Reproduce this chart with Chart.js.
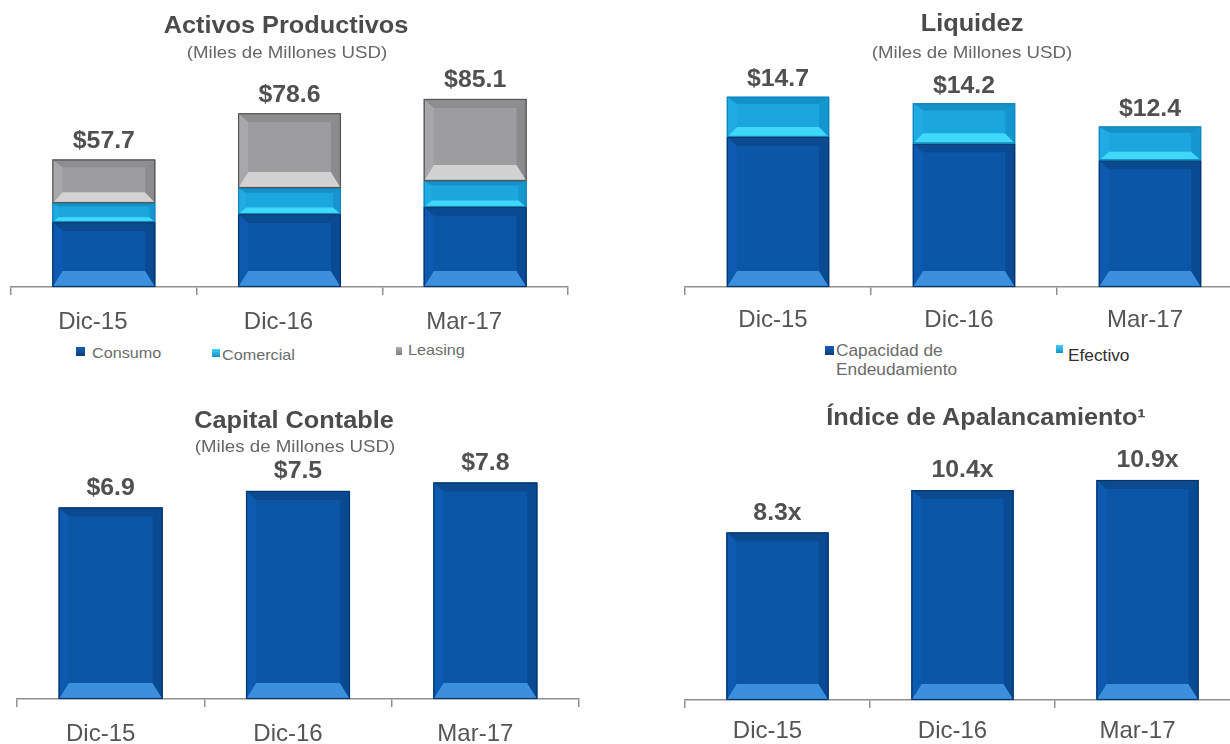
<!DOCTYPE html>
<html lang="es">
<head>
<meta charset="utf-8">
<title>Indicadores financieros</title>
<script src="https://cdn.jsdelivr.net/npm/chart.js@4.4.1/dist/chart.umd.min.js"></script>
<style>
    html, body { margin: 0; padding: 0; background: #fff; overflow: hidden; }
    body { position: relative; width: 1230px; height: 744px; font-family: "Liberation Sans", Arial, sans-serif; }
    .lienzo { position: absolute; }
    .texto { position: absolute; white-space: nowrap; line-height: 1; z-index: 2; }
    .centrado { transform: translate(-50%, -50%) scaleX(1.1); }
    .izquierda { transform-origin: 0 50%; transform: translateY(-50%) scaleX(1.08); }
    .titulo { font-weight: bold; font-size: 23px; color: #4b4b4b; }
    .subtitulo { font-size: 17px; color: #666; }
    .leyenda { font-size: 15px; color: #6b6b6b; }
    .cuadro { position: absolute; z-index: 2; }
</style>
</head>
<body>

<canvas id="grafActivos" class="lienzo" width="615" height="340" style="left:0;top:0"></canvas>
<canvas id="grafLiquidez" class="lienzo" width="640" height="340" style="left:615px;top:0"></canvas>
<canvas id="grafCapital" class="lienzo" width="615" height="364" style="left:0;top:380px"></canvas>
<canvas id="grafApalanca" class="lienzo" width="640" height="364" style="left:615px;top:380px"></canvas>

<script>
// ==========================================
// DATOS
// ==========================================

const CATEGORIAS = ["Dic-15", "Dic-16", "Mar-17"];

// Activos productivos (miles de millones USD)
const ACTIVOS_CONSUMO = [29.4, 33.0, 36.2];
const ACTIVOS_COMERCIAL = [8.6, 11.8, 11.8];
const ACTIVOS_LEASING = [19.7, 33.8, 37.1];

// Liquidez (miles de millones USD)
const LIQ_CAPACIDAD = [11.6, 11.1, 9.8];
const LIQ_EFECTIVO = [3.1, 3.1, 2.6];

// Capital contable (miles de millones USD)
const CAPITAL_CONTABLE = [6.9, 7.5, 7.8];

// Índice de apalancamiento (veces)
const APALANCAMIENTO = [8.3, 10.4, 10.9];

// ==========================================
// COLORES DE LAS BARRAS (cara + biseles)
// ==========================================

const TONO_AZUL = { cara: "#0b56a7", arriba: "#0c4a8f", abajo: "#3b8fdd", izq: "#0d5bb0", der: "#0a4a92", borde: "#07356b" };
const TONO_CIAN = { cara: "#1ca6de", arriba: "#1690c8", abajo: "#40d8f8", izq: "#20ace2", der: "#1596ce", borde: "#1286bd" };
const TONO_GRIS = { cara: "#9d9d9f", arriba: "#8e8e90", abajo: "#d2d2d2", izq: "#a8a8aa", der: "#8b8b8d", borde: "#555555" };

const FUENTE = '"Liberation Sans", Arial, sans-serif';

// ==========================================
// PLUGINS
// ==========================================

function poligono(ctx, puntos, color) {
    ctx.beginPath();
    ctx.moveTo(puntos[0][0], puntos[0][1]);
    for (let i = 1; i < puntos.length; i++) ctx.lineTo(puntos[i][0], puntos[i][1]);
    ctx.closePath();
    ctx.fillStyle = color;
    ctx.fill();
}

// Dibuja el marco biselado encima de cada barra que ya pintó Chart.js
const biselBarras = {
    id: "biselBarras",
    afterDatasetsDraw(chart) {
        const ctx = chart.ctx;
        ctx.save();
        chart.data.datasets.forEach((ds, i) => {
            const tono = ds.tono;
            chart.getDatasetMeta(i).data.forEach((barra) => {
                const { x, y, base, width } = barra.getProps(["x", "y", "base", "width"], true);
                const izq = x - width / 2;
                const der = x + width / 2;
                const arr = Math.min(y, base);
                const abj = Math.max(y, base);
                const alto = abj - arr;
                const dl = Math.min(10, alto * 0.3, width * 0.1);
                const dt = Math.min(9, alto * 0.18);
                const db = Math.min(16, alto * 0.25);
                const il = izq + dl, ir = der - dl, it = arr + dt, ib = abj - db;

                poligono(ctx, [[izq, arr], [der, arr], [ir, it], [il, it]], tono.arriba);
                poligono(ctx, [[izq, abj], [der, abj], [ir, ib], [il, ib]], tono.abajo);
                poligono(ctx, [[izq, arr], [il, it], [il, ib], [izq, abj]], tono.izq);
                poligono(ctx, [[der, arr], [ir, it], [ir, ib], [der, abj]], tono.der);

                ctx.strokeStyle = tono.borde;
                ctx.lineWidth = 1.2;
                ctx.strokeRect(izq + 0.5, arr + 0.5, width - 1, alto - 1);
            });
        });
        ctx.restore();
    },
};

// Total de cada columna sobre la barra superior
const etiquetasTotales = {
    id: "etiquetasTotales",
    afterDatasetsDraw(chart, args, opts) {
        const { ctx } = chart;
        const ejeX = chart.scales.x;
        const ejeY = chart.scales.y;
        ctx.save();
        ctx.font = "bold 23px " + FUENTE;
        ctx.fillStyle = "#505050";
        ctx.textAlign = "center";
        ctx.textBaseline = "middle";
        chart.data.labels.forEach((_, i) => {
            const total = chart.data.datasets.reduce((s, d) => s + d.data[i], 0);
            const px = ejeX.getPixelForValue(i);
            const py = ejeY.getPixelForValue(total) - opts.separacion;
            ctx.save();
            ctx.translate(px, py);
            ctx.scale(1.08, 1);
            ctx.fillText(opts.prefijo + total.toFixed(1) + opts.sufijo, 0, 0);
            ctx.restore();
        });
        ctx.restore();
    },
};

// ==========================================
// CONSTRUCCIÓN DE LAS GRÁFICAS
// ==========================================

function crearGrafica(idLienzo, series, cfg) {
    return new Chart(document.getElementById(idLienzo), {
        type: "bar",
        data: {
            labels: CATEGORIAS,
            datasets: series.map((s) => ({
                label: s.nombre,
                data: s.valores,
                backgroundColor: s.tono.cara,
                borderWidth: 0,
                barPercentage: cfg.anchoBarra,
                categoryPercentage: 1,
                tono: s.tono,
            })),
        },
        options: {
            responsive: false,
            animation: false,
            layout: { padding: cfg.margen },
            plugins: {
                legend: { display: false },
                tooltip: { enabled: false },
                etiquetasTotales: { prefijo: cfg.prefijo, sufijo: cfg.sufijo, separacion: cfg.separacion },
            },
            scales: {
                x: {
                    stacked: true,
                    grid: { offset: true, drawOnChartArea: false, drawTicks: true, tickLength: 8, color: "#8f8f8f", lineWidth: 1.5 },
                    border: { display: true, color: "#8f8f8f", width: 1.5 },
                    ticks: {
                        color: "#555",
                        font: { family: FUENTE, size: 24 },
                        padding: cfg.padEtiqueta,
                        labelOffset: cfg.desfase,
                        maxRotation: 0,
                        autoSkip: false,
                    },
                    afterFit: (eje) => { eje.height = cfg.altoEje; },
                },
                y: { stacked: true, display: false, min: 0, max: cfg.maximo },
            },
        },
        plugins: [biselBarras, etiquetasTotales],
    });
}

crearGrafica("grafActivos", [
    { nombre: "Consumo", valores: ACTIVOS_CONSUMO, tono: TONO_AZUL },
    { nombre: "Comercial", valores: ACTIVOS_COMERCIAL, tono: TONO_CIAN },
    { nombre: "Leasing", valores: ACTIVOS_LEASING, tono: TONO_GRIS },
], { margen: { left: 11, right: 47, top: 66, bottom: 0 }, altoEje: 53, maximo: 100, anchoBarra: 0.554,
     prefijo: "$", sufijo: "", separacion: 18, padEtiqueta: 13, desfase: -11 });

crearGrafica("grafLiquidez", [
    { nombre: "Capacidad de Endeudamiento", valores: LIQ_CAPACIDAD, tono: TONO_AZUL },
    { nombre: "Efectivo", valores: LIQ_EFECTIVO, tono: TONO_CIAN },
], { margen: { left: 70, right: 12, top: 80, bottom: 0 }, altoEje: 53, maximo: 16, anchoBarra: 0.55,
     prefijo: "$", sufijo: "", separacion: 17, padEtiqueta: 11, desfase: -5 });

crearGrafica("grafCapital", [
    { nombre: "Capital Contable", valores: CAPITAL_CONTABLE, tono: TONO_AZUL },
], { margen: { left: 17, right: 36, top: 97, bottom: 0 }, altoEje: 45, maximo: 8, anchoBarra: 0.555,
     prefijo: "$", sufijo: "", separacion: 19, padEtiqueta: 13, desfase: -10 });

crearGrafica("grafApalanca", [
    { nombre: "Índice de Apalancamiento", valores: APALANCAMIENTO, tono: TONO_AZUL },
], { margen: { left: 70, right: 15, top: 98, bottom: 0 }, altoEje: 44, maximo: 11, anchoBarra: 0.552,
     prefijo: "", sufijo: "x", separacion: 19, padEtiqueta: 9, desfase: -10 });

// ==========================================
// TÍTULOS Y LEYENDAS
// ==========================================

function texto(contenido, x, y, clases, estilo) {
    const el = document.createElement("div");
    el.className = "texto " + clases;
    el.textContent = contenido;
    el.style.left = x + "px";
    el.style.top = y + "px";
    if (estilo) Object.assign(el.style, estilo);
    document.body.appendChild(el);
}

function cuadro(x, y, ancho, alto, color) {
    const el = document.createElement("div");
    el.className = "cuadro";
    Object.assign(el.style, { left: x + "px", top: y + "px", width: ancho + "px", height: alto + "px", background: color });
    document.body.appendChild(el);
}

texto("Activos Productivos", 286, 25, "centrado titulo");
texto("(Miles de Millones USD)", 287, 52, "centrado subtitulo");
texto("Liquidez", 972, 23, "centrado titulo");
texto("(Miles de Millones USD)", 972, 52, "centrado subtitulo");
texto("Capital Contable", 294, 420, "centrado titulo");
texto("(Miles de Millones USD)", 295, 446, "centrado subtitulo");
texto("Índice de Apalancamiento¹", 986, 417, "centrado titulo");

// leyenda de activos
cuadro(76, 347, 9, 9, "linear-gradient(#1a5fb0, #0b3f7e)");
texto("Consumo", 92, 352, "izquierda leyenda");
cuadro(212, 349, 8, 8, "linear-gradient(#40d0f5, #1590c8)");
texto("Comercial", 222, 354, "izquierda leyenda");
cuadro(396, 347, 6, 8, "linear-gradient(#b0b0b0, #7d7d7d)");
texto("Leasing", 408, 349, "izquierda leyenda");

// leyenda de liquidez
cuadro(825, 346, 9, 9, "linear-gradient(#1a5fb0, #0b3f7e)");
texto("Capacidad de", 836, 351, "izquierda leyenda", { fontSize: "16px" });
texto("Endeudamiento", 836, 370, "izquierda leyenda", { fontSize: "16px" });
cuadro(1056, 345, 7, 8, "linear-gradient(#40d0f5, #1590c8)");
texto("Efectivo", 1068, 356, "izquierda leyenda", { fontSize: "16px", color: "#2e2e2e" });
</script>
</body>
</html>
